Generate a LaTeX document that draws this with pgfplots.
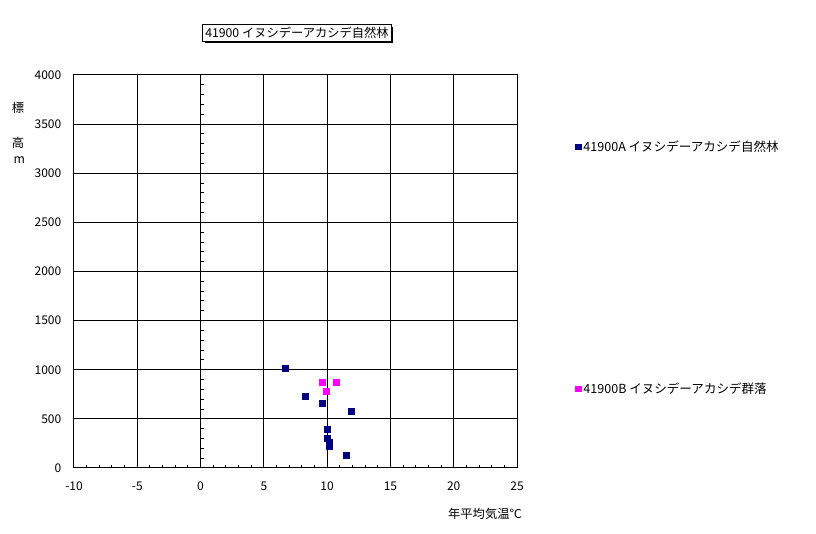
\documentclass[border=0pt]{standalone}
\usepackage{pgfplots}
\pgfplotsset{compat=1.18}
\usepackage{fontspec}
\setmainfont{Noto Sans CJK JP}
\usetikzlibrary{shadows}
\definecolor{navyc}{RGB}{0,0,128}
\definecolor{magc}{RGB}{255,0,255}
\begin{document}
\begin{tikzpicture}[font=\fontsize{9.2}{11}\selectfont]
\path[use as bounding box] (-55.5pt,-49.5pt) rectangle (556.5pt,351pt);
\begin{axis}[
  at={(0pt,0pt)}, anchor=south west,
  width=332.25pt, height=294.75pt, scale only axis,
  xmin=-10, xmax=25, ymin=0, ymax=4000,
  xtick={-10,-5,...,25}, ytick={0,500,...,4000},
  minor x tick num=4,
  xtick pos=bottom, ytick pos=left,
  tick align=inside,
  major tick length=0pt, minor tick length=2.25pt,
  grid=major,
  major grid style={black, line width=0.75pt},
  axis line style={black, line width=0.75pt},
  every tick/.style={black, line width=0.75pt},
  /pgf/number format/assume math mode=true,
  /pgf/number format/1000 sep={},
  tick label style={font=\fontsize{9}{11}\selectfont},
  xticklabel style={yshift=-7pt},
  yticklabel style={xshift=-6pt},
  legend style={at={(rel axis cs:1.132,0.84)}, anchor=north west, draw=none, fill=none,
     font=\fontsize{9.4}{11}\selectfont, row sep=168pt, inner sep=0pt},
  legend cell align=left,
  legend image code/.code={\draw[#1, mark size=1.9pt] plot coordinates {(0pt,0pt)};},
]
\addplot[only marks, mark=square*, mark size=2.25pt, color=navyc] coordinates {
  (6.7,1020) (8.3,725) (9.6,655) (11.9,575) (10.0,390) (10.0,300) (10.2,258) (10.2,217) (11.5,132)
};
\addlegendentry{41900A イヌシデーアカシデ自然林}
\addplot[only marks, mark=square*, mark size=2.25pt, color=magc] coordinates {
  (9.65,875) (10.7,875) (9.9,785)
};
\addlegendentry{41900B イヌシデーアカシデ群落}
\pgfplotsextra{
  \foreach \yy in {100,200,...,3900} {\draw[black, line width=0.75pt] (axis cs:0,\yy) -- ++(2.25pt,0pt);}
}
\end{axis}
\node[draw=black, fill=white, line width=0.75pt, inner sep=2pt,
  drop shadow={shadow xshift=1.5pt, shadow yshift=-1.5pt, fill=black, opacity=1}]
  at (167.25pt,326.25pt) {41900 イヌシデーアカシデ自然林};
\node at (-42pt,270pt) {標};
\node at (-42pt,243.75pt) {高};
\node at (-41pt,231pt) {m};
\node at (308.25pt,-34.5pt) {年平均気温℃};
\end{tikzpicture}
\end{document}
